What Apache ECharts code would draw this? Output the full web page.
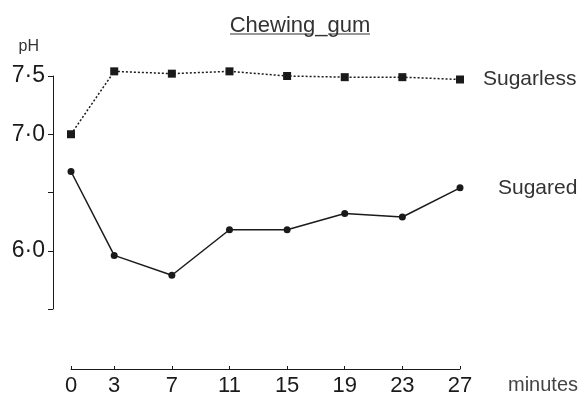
<!DOCTYPE html>
<html>
<head>
<meta charset="utf-8">
<script src="https://cdn.jsdelivr.net/npm/echarts@6/dist/echarts.min.js"></script>
<style>html,body{margin:0;padding:0;background:#fff}#c{width:585px;height:397px}</style>
</head>
<body>
<div id="c"></div>
<script>
var minutes = [0, 3, 7, 11, 15, 19, 23, 27];
var sugarless = [7.00, 7.54, 7.52, 7.54, 7.50, 7.49, 7.49, 7.47];
var sugared = [6.68, 5.96, 5.79, 6.18, 6.18, 6.32, 6.29, 6.54];
var yTicks = [5.5, 6.0, 6.5, 7.0, 7.5];
var yLabels = {'6': '6·0', '7': '7·0', '7.5': '7·5'};

function pairs(xs, ys) { return xs.map(function (x, i) { return [x, ys[i]]; }); }

var font = '"Liberation Sans", Arial, sans-serif';
var ink = '#1a1a1a';
var chart = echarts.init(document.getElementById('c'));
chart.setOption({
  animation: false,
  backgroundColor: '#fff',
  title: {
    text: 'Chewing_gum', left: 295, top: 10, textAlign: 'center',
    textStyle: {fontFamily: font, fontSize: 22, fontWeight: 'normal', color: '#333'}
  },
  graphic: [{
    type: 'line', shape: {x1: 230, y1: 34, x2: 312, y2: 34},
    style: {stroke: '#333', lineWidth: 1.2}
  }, {
    type: 'line', shape: {x1: 328, y1: 34, x2: 370, y2: 34},
    style: {stroke: '#333', lineWidth: 1.2}
  }],
  grid: {left: 71, right: 125, top: 76, bottom: 87},
  xAxis: {
    type: 'value', min: 0, max: 27, offset: 60,
    axisLine: {show: true, onZero: false, lineStyle: {color: ink, width: 1}},
    axisTick: {show: true, inside: true, length: 3, customValues: minutes, lineStyle: {color: ink}},
    axisLabel: {customValues: minutes, fontFamily: font, fontSize: 22, color: ink, margin: 6},
    splitLine: {show: false},
    name: 'minutes', nameLocation: 'end', nameGap: 48,
    nameTextStyle: {fontFamily: font, fontSize: 20, color: '#444', verticalAlign: 'top', padding: [6, 0, 0, 0]}
  },
  yAxis: {
    type: 'value', min: 5.5, max: 7.5, interval: 0.5, offset: 18,
    axisLine: {show: true, onZero: false, lineStyle: {color: ink, width: 1}},
    axisTick: {show: true, length: 5, customValues: yTicks, lineStyle: {color: ink}},
    axisLabel: {
      customValues: yTicks, fontFamily: font, fontSize: 23, color: ink, margin: 8,
      formatter: function (v) { return yLabels[String(v)] || ''; }
    },
    splitLine: {show: false},
    name: 'pH', nameLocation: 'end', nameGap: 21,
    nameTextStyle: {fontFamily: font, fontSize: 16, color: '#333', align: 'right', padding: [0, 14, 0, 0]}
  },
  series: [{
    name: 'Sugarless', type: 'line', clip: false,
    data: pairs(minutes, sugarless),
    symbol: 'rect', symbolSize: 8,
    lineStyle: {color: ink, width: 1.5, type: [2, 2]},
    itemStyle: {color: ink},
    endLabel: {show: true, formatter: 'Sugarless', distance: 23, fontFamily: font, fontSize: 21, color: '#333'}
  }, {
    name: 'Sugared', type: 'line', clip: false,
    data: pairs(minutes, sugared),
    symbol: 'circle', symbolSize: 7,
    lineStyle: {color: ink, width: 1.5},
    itemStyle: {color: ink},
    endLabel: {show: true, formatter: 'Sugared', distance: 38, fontFamily: font, fontSize: 21, color: '#333'}
  }]
});
</script>
</body>
</html>
